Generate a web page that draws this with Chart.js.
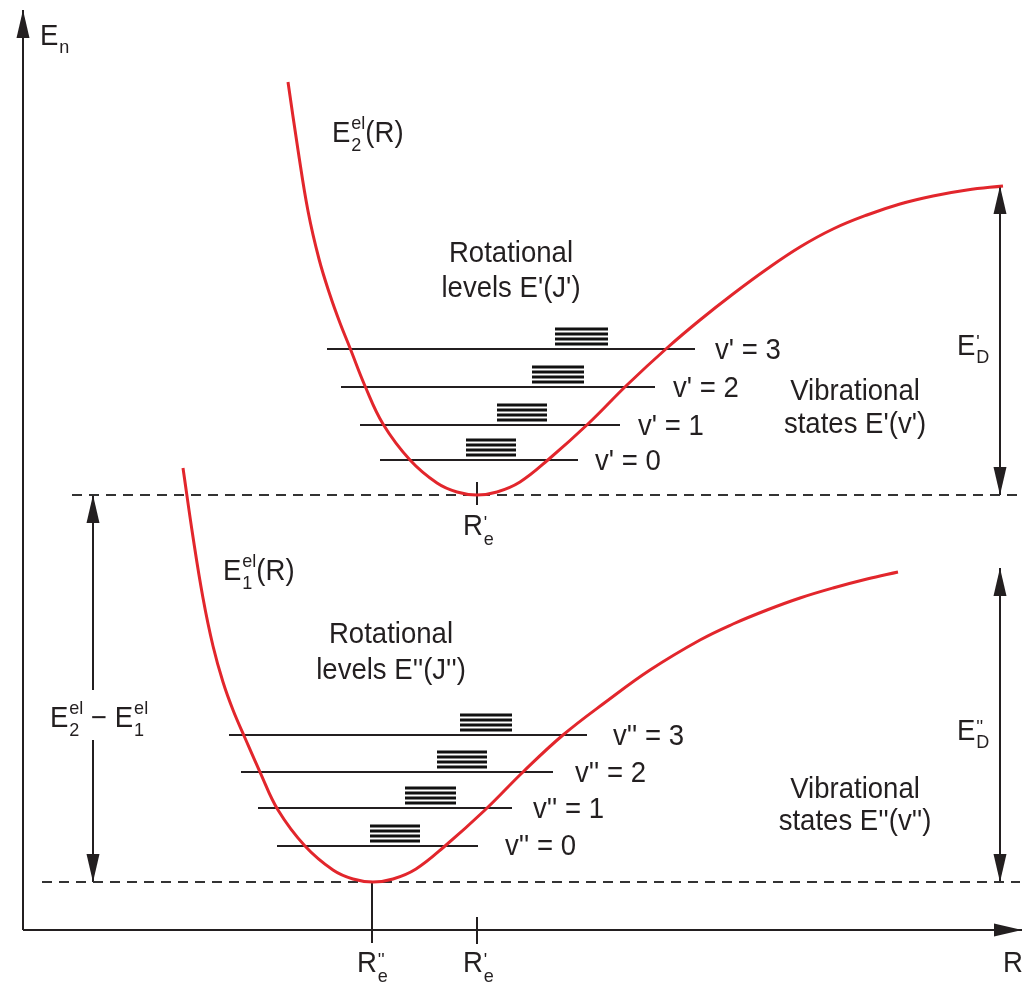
<!DOCTYPE html>
<html>
<head>
<meta charset="utf-8">
<title>Potential curves</title>
<script src="https://cdn.jsdelivr.net/npm/chart.js@4.4.0/dist/chart.umd.min.js"></script>
<style>
	html, body { margin: 0; padding: 0; background: #fff; }
	canvas { display: block; }
</style>
</head>
<body>
<canvas id="graphPotentiel" width="1023" height="992"></canvas>
<script>
// courbe du haut E2el(R)
const upperR = [2.65, 2.75, 2.85, 2.96, 3.07, 3.17, 3.27, 3.42, 3.60, 3.87, 4.14, 4.34, 4.54, 4.74, 4.97, 5.26, 5.66, 6.04, 6.44, 6.77, 7.10, 7.44, 7.77, 8.10, 8.44, 8.77, 9.10, 9.44, 9.80];
const upperE = [8.48, 7.80, 7.19, 6.71, 6.35, 6.07, 5.82, 5.44, 5.06, 4.70, 4.47, 4.38, 4.35, 4.38, 4.48, 4.71, 5.07, 5.45, 5.82, 6.10, 6.36, 6.61, 6.83, 7.01, 7.15, 7.26, 7.34, 7.40, 7.44];
// courbe du bas E1el(R)
const lowerR = [1.60, 1.70, 1.80, 1.90, 2.00, 2.10, 2.22, 2.37, 2.55, 2.82, 3.10, 3.30, 3.50, 3.70, 3.93, 4.22, 4.62, 5.00, 5.40, 5.84, 6.27, 6.77, 7.10, 7.44, 7.77, 8.10, 8.44, 8.75];
const lowerE = [4.62, 3.93, 3.32, 2.84, 2.48, 2.20, 1.92, 1.58, 1.20, 0.84, 0.60, 0.51, 0.48, 0.51, 0.61, 0.84, 1.20, 1.58, 1.95, 2.29, 2.60, 2.90, 3.06, 3.20, 3.32, 3.42, 3.51, 3.58];

// niveaux vibrationnels v' et v''
const upperLevelE = [4.70, 5.05, 5.43, 5.81];
const upperLevelFrom = [3.57, 3.37, 3.18, 3.04];
const upperLevelTo = [5.55, 5.97, 6.32, 6.72];
const lowerLevelE = [0.84, 1.22, 1.58, 1.95];
const lowerLevelFrom = [2.54, 2.35, 2.18, 2.06];
const lowerLevelTo = [4.55, 4.89, 5.30, 5.64];

// niveaux rotationnels (paquets au-dessus de chaque niveau)
const upperRotFrom = [4.43, 4.74, 5.09, 5.32];
const upperRotTo = [4.93, 5.24, 5.61, 5.85];
const lowerRotFrom = [3.47, 3.82, 4.14, 4.37];
const lowerRotTo = [3.97, 4.33, 4.64, 4.89];
const rotSteps = [0.05, 0.10, 0.15, 0.20];

const upperMin = 4.35;
const lowerMin = 0.48;
const upperMinR = 4.54;
const lowerMinR = 3.49;
const upperDissoc = 7.44;
const lowerDissoc = 3.62;

const RED = "#e2262c";
const INK = "#231f20";
const FONT = '"Liberation Sans", Arial, Helvetica, sans-serif';

const line = (pts, color, width, extra) =>
	Object.assign({
		data: pts,
		showLine: true,
		borderColor: color,
		borderWidth: width,
		pointRadius: 0,
		fill: false,
		tension: 0,
		order: 1,
	}, extra || {});

const seg = (r1, e1, r2, e2) => [{ x: r1, y: e1 }, { x: r2, y: e2 }];

const datasets = [];
// courbes de potentiel
datasets.push(line(upperR.map((r, i) => ({ x: r, y: upperE[i] })), RED, 3, { tension: 0.4, order: 0 }));
datasets.push(line(lowerR.map((r, i) => ({ x: r, y: lowerE[i] })), RED, 3, { tension: 0.4, order: 0 }));

// lignes pointillées aux minimums
datasets.push(line(seg(0.49, upperMin, 10.0, upperMin), "#333", 2, { borderDash: [10, 7] }));
datasets.push(line(seg(0.19, lowerMin, 9.97, lowerMin), "#333", 2, { borderDash: [10, 7] }));

// niveaux vibrationnels + paquets rotationnels
const addLevels = (levelE, from, to, rotFrom, rotTo) => {
	levelE.forEach((e, i) => {
		datasets.push(line(seg(from[i], e, to[i], e), INK, 2));
		rotSteps.forEach((s) => {
			datasets.push(line(seg(rotFrom[i], e + s, rotTo[i], e + s), "#111", 3));
		});
	});
};
addLevels(upperLevelE, upperLevelFrom, upperLevelTo, upperRotFrom, upperRotTo);
addLevels(lowerLevelE, lowerLevelFrom, lowerLevelTo, lowerRotFrom, lowerRotTo);

// flèches (axes, énergies)
const arrows = [
	{ r: [0, 0], e: [0, 9.2], heads: [false, true] },
	{ r: [0, 9.99], e: [0, 0], heads: [false, true] },
	{ r: [9.77, 9.77], e: [upperMin, upperDissoc], heads: [true, true] },
	{ r: [9.77, 9.77], e: [lowerMin, lowerDissoc], heads: [true, true] },
	{ r: [0.70, 0.70], e: [2.40, upperMin], heads: [false, true] },
	{ r: [0.70, 0.70], e: [1.90, lowerMin], heads: [false, true] },
];
arrows.forEach((a) => datasets.push(line(seg(a.r[0], a.e[0], a.r[1], a.e[1]), INK, 2)));

// repères Re
datasets.push(line(seg(upperMinR, 4.48, upperMinR, 4.25), INK, 2));
datasets.push(line(seg(lowerMinR, lowerMin, lowerMinR, -0.13), INK, 2));
datasets.push(line(seg(upperMinR, 0.13, upperMinR, -0.14), INK, 2));

// textes
const labels = [
	{ parts: ["E", { sub: "n", subDy: 8 }], r: 0.17, e: 8.85 },
	{ parts: ["E", { sup: "el", sub: "2" }, "(R)"], r: 3.09, e: 7.88 },
	{ parts: ["Rotational"], r: 4.88, e: 6.68, align: "center" },
	{ parts: ["levels E'(J')"], r: 4.88, e: 6.33, align: "center" },
	{ parts: ["v' = 3"], r: 6.92, e: 5.71 },
	{ parts: ["v' = 2"], r: 6.50, e: 5.33 },
	{ parts: ["v' = 1"], r: 6.15, e: 4.95 },
	{ parts: ["v' = 0"], r: 5.72, e: 4.60 },
	{ parts: ["Vibrational"], r: 8.32, e: 5.30, align: "center" },
	{ parts: ["states E'(v')"], r: 8.32, e: 4.97, align: "center" },
	{ parts: ["E", { sup: "'", sub: "D", supDy: -7, subDy: 8 }], r: 9.34, e: 5.75 },
	{ parts: ["R", { sup: "'", sub: "e", supDy: -6, subDy: 10 }], r: 4.40, e: 3.95 },
	{ parts: ["E", { sup: "el", sub: "1" }, "(R)"], r: 2.00, e: 3.50 },
	{ parts: ["Rotational"], r: 3.68, e: 2.87, align: "center" },
	{ parts: ["levels E''(J'')"], r: 3.68, e: 2.51, align: "center" },
	{ parts: ["v'' = 3"], r: 5.90, e: 1.85 },
	{ parts: ["v'' = 2"], r: 5.52, e: 1.48 },
	{ parts: ["v'' = 1"], r: 5.10, e: 1.12 },
	{ parts: ["v'' = 0"], r: 4.82, e: 0.75 },
	{ parts: ["Vibrational"], r: 8.32, e: 1.32, align: "center" },
	{ parts: ["states E''(v'')"], r: 8.32, e: 1.00, align: "center" },
	{ parts: ["E", { sup: "''", sub: "D", supDy: -7, subDy: 8 }], r: 9.34, e: 1.90 },
	{ parts: ["E", { sup: "el", sub: "2" }, " \u2212 ", "E", { sup: "el", sub: "1" }], r: 0.27, e: 2.03 },
	{ parts: ["R", { sup: "''", sub: "e", supDy: -6, subDy: 10 }], r: 3.34, e: -0.42 },
	{ parts: ["R", { sup: "'", sub: "e", supDy: -6, subDy: 10 }], r: 4.40, e: -0.42 },
	{ parts: ["R"], r: 9.80, e: -0.42 },
];

const MAIN = "29px " + FONT;
const SMALL = "19px " + FONT;

const drawRich = (ctx, item, x, y) => {
	let w = 0;
	item.parts.forEach((p) => {
		if (typeof p === "string") {
			ctx.font = MAIN;
			w += ctx.measureText(p).width;
		} else {
			ctx.font = SMALL;
			w += Math.max(ctx.measureText(p.sup || "").width, ctx.measureText(p.sub || "").width) + 1;
		}
	});
	ctx.save();
	ctx.translate(x, y);
	ctx.scale(0.95, 1);
	let cx = item.align === "center" ? -w / 2 : 0;
	item.parts.forEach((p) => {
		if (typeof p === "string") {
			ctx.font = MAIN;
			ctx.fillText(p, cx, 0);
			cx += ctx.measureText(p).width;
		} else {
			ctx.font = SMALL;
			if (p.sup) ctx.fillText(p.sup, cx + 1, p.supDy || -13);
			if (p.sub) ctx.fillText(p.sub, cx + 1, p.subDy || 9);
			cx += Math.max(ctx.measureText(p.sup || "").width, ctx.measureText(p.sub || "").width) + 1;
		}
	});
	ctx.restore();
};

const arrowHead = (ctx, x, y, dx, dy) => {
	const L = 28, W = 6.5;
	ctx.beginPath();
	ctx.moveTo(x, y);
	ctx.lineTo(x - dx * L - dy * W, y - dy * L + dx * W);
	ctx.lineTo(x - dx * L + dy * W, y - dy * L - dx * W);
	ctx.closePath();
	ctx.fill();
};

const decorations = {
	id: "decorations",
	afterDatasetsDraw(chart) {
		const ctx = chart.ctx;
		const xs = chart.scales.x, ys = chart.scales.y;
		ctx.save();
		ctx.fillStyle = INK;
		arrows.forEach((a) => {
			const x1 = xs.getPixelForValue(a.r[0]), y1 = ys.getPixelForValue(a.e[0]);
			const x2 = xs.getPixelForValue(a.r[1]), y2 = ys.getPixelForValue(a.e[1]);
			const len = Math.hypot(x2 - x1, y2 - y1);
			const dx = (x2 - x1) / len, dy = (y2 - y1) / len;
			if (a.heads[1]) arrowHead(ctx, x2, y2, dx, dy);
			if (a.heads[0]) arrowHead(ctx, x1, y1, -dx, -dy);
		});
		ctx.textBaseline = "alphabetic";
		ctx.textAlign = "left";
		labels.forEach((l) => drawRich(ctx, l, xs.getPixelForValue(l.r), ys.getPixelForValue(l.e)));
		ctx.restore();
	},
};

window.addEventListener("load", () => {
	const canva = document.querySelector("#graphPotentiel");
	new Chart(canva, {
		type: "scatter",
		data: { datasets: datasets },
		options: {
			responsive: false,
			animation: false,
			devicePixelRatio: 1,
			layout: { padding: { left: 13, right: 0, top: 10, bottom: 42 } },
			plugins: { legend: { display: false }, tooltip: { enabled: false } },
			scales: {
				x: { type: "linear", min: -0.1, max: 10, display: false },
				y: { type: "linear", min: -0.2, max: 9.2, display: false },
			},
		},
		plugins: [decorations],
	});
});
</script>
</body>
</html>
